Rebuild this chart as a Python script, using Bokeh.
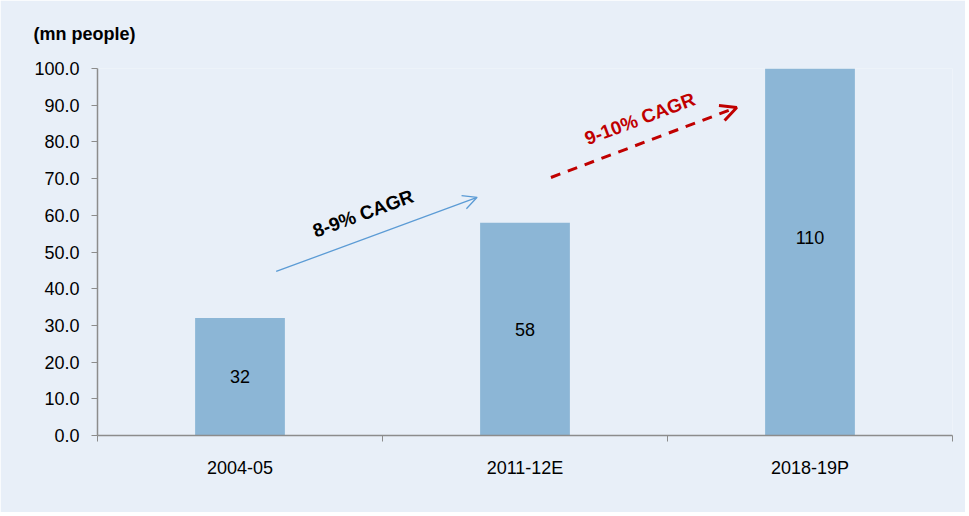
from bokeh.plotting import figure
from bokeh.models import FixedTicker, Range1d, Arrow, OpenHead, Label, ColumnDataSource
from bokeh.core.properties import value
from bokeh.embed import file_html
from bokeh.resources import INLINE

categories = ["2004-05", "2011-12E", "2018-19P"]
people_mn = [32, 58, 110]
y_ticks = [0, 10, 20, 30, 40, 50, 60, 70, 80, 90, 100]
unit_label = "(mn people)"
cagr_1 = "8-9% CAGR"
cagr_2 = "9-10% CAGR"

BG = "#E8EFF8"
BAR = "#8CB6D6"
FONT = "Liberation Sans"

p = figure(width=965, height=512, output_backend="svg", toolbar_location=None,
           x_range=Range1d(0, 3), y_range=Range1d(0, 100),
           min_border_left=97, min_border_right=13, min_border_top=68, min_border_bottom=77)
p.background_fill_color = BG
p.border_fill_color = BG
p.outline_line_color = None
p.xgrid.visible = False
p.ygrid.visible = False

p.title.text = unit_label
p.title.text_font = FONT
p.title.text_font_size = "18px"
p.title.text_font_style = "bold"
p.title.text_color = "black"
p.title.align = "left"
p.title.vertical_align = "top"
p.title.offset = -64
p.title.standoff = 45

centers = [i + 0.5 for i in range(len(categories))]
tops = [min(v, 100) for v in people_mn]
src = ColumnDataSource(dict(x=centers, top=tops, val=[str(v) for v in people_mn],
                            ly=[min(v, 100) / 2 + (4 if v > 100 else 0) for v in people_mn]))
p.vbar(x="x", top="top", width=0.315, source=src, fill_color=BAR, line_color=None)
p.text(x="x", y="ly", text="val", source=src, text_align="center", text_baseline="middle",
       text_font=value(FONT), text_font_size="18px", text_color="black")

# x axis
xa = p.xaxis[0]
xa.ticker = FixedTicker(ticks=centers, minor_ticks=[0, 1, 2, 3])
xa.major_label_overrides = {c: lab for c, lab in zip(centers, categories)}
xa.major_tick_out = 0
xa.major_tick_in = 0
xa.minor_tick_out = 6
xa.minor_tick_in = 0
xa.minor_tick_line_color = "#8c8c8c"
xa.axis_line_color = "#8c8c8c"
xa.axis_line_width = 1.5
xa.major_label_text_font = FONT
xa.major_label_text_font_size = "18px"
xa.major_label_text_color = "black"
xa.major_label_standoff = 16

ya = p.yaxis[0]
ya.ticker = FixedTicker(ticks=y_ticks)
ya.major_label_overrides = {t: f"{t:.1f}" for t in y_ticks}
ya.major_tick_out = 6
ya.major_tick_in = 0
ya.minor_tick_out = 0
ya.minor_tick_in = 0
ya.major_tick_line_color = "#8c8c8c"
ya.axis_line_color = "#8c8c8c"
ya.axis_line_width = 1.5
ya.major_label_text_font = FONT
ya.major_label_text_font_size = "18px"
ya.major_label_text_color = "black"
ya.major_label_standoff = 12

# arrows
p.add_layout(Arrow(x_start=0.627, y_start=44.7, x_end=1.332, y_end=64.9,
                   line_color="#5B9BD5", line_width=1.3,
                   end=OpenHead(size=14, line_color="#5B9BD5", line_width=1.3)))
p.add_layout(Arrow(x_start=1.591, y_start=70.3, x_end=2.243, y_end=89.4,
                   line_color="#C00000", line_width=3, line_dash="10 8",
                   end=OpenHead(size=16, line_color="#C00000", line_width=3)))

p.add_layout(Label(x=0.932, y=60.5, text=cagr_1, angle=0.35, text_font=FONT,
                   text_font_size="19px", text_font_style="bold", text_color="black",
                   text_align="center", text_baseline="middle"))
p.add_layout(Label(x=1.903, y=86.3, text=cagr_2, angle=0.36, text_font=FONT,
                   text_font_size="19px", text_font_style="bold", text_color="#C00000",
                   text_align="center", text_baseline="middle"))

open("out.html", "w").write(file_html(p, INLINE))
